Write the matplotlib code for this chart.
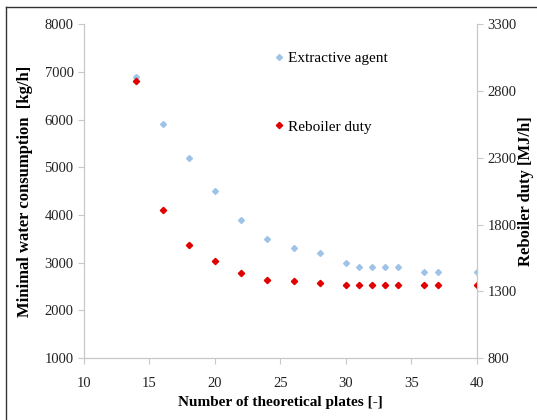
import matplotlib
matplotlib.use("Agg")
import matplotlib.pyplot as plt
from matplotlib.lines import Line2D

plates = [14, 16, 18, 20, 22, 24, 26, 28, 30, 31, 32, 33, 34, 36, 37, 40]
agent = [6900, 5900, 5200, 4500, 3900, 3500, 3300, 3200, 3000,
         2900, 2900, 2900, 2900, 2800, 2800, 2800]
duty = [2875, 1912, 1650, 1525, 1435, 1388, 1375, 1362, 1350,
        1350, 1350, 1350, 1345, 1345, 1345, 1345]

plt.rcParams['font.family'] = ['Liberation Serif', 'DejaVu Serif']

fig = plt.figure(figsize=(5.37, 4.20), dpi=100)
ax = fig.add_axes([0.1564, 0.1476, 0.7316, 0.7944])
ax2 = ax.twinx()

grey = '#c8c8c8'
p1, = ax.plot(plates, agent, linestyle='none', marker='D', markersize=3,
              color='#9dc3e6', label='Extractive agent')
p2, = ax2.plot(plates, duty, linestyle='none', marker='D', markersize=3.2,
               color='#e00000', label='Reboiler duty')

ax.set_xlim(10, 40)
ax.set_ylim(1000, 8000)
ax2.set_ylim(800, 3300)
ax.set_xticks(range(10, 41, 5))
ax.set_yticks(range(1000, 8001, 1000))
ax2.set_yticks(range(800, 3301, 500))

for a in (ax, ax2):
    a.spines['top'].set_visible(False)
    for s in ('left', 'right', 'bottom'):
        a.spines[s].set_color(grey)
    a.tick_params(direction='out', length=4, color=grey, labelsize=10.5,
                  labelcolor='#222222')
ax.tick_params(axis='x', pad=10)

ax.set_xlabel('Number of theoretical plates [-]', fontsize=11,
              fontweight='bold', labelpad=4)
ax.set_ylabel('Minimal water consumption  [kg/h]', fontsize=12,
              fontweight='bold', labelpad=8)
ax2.set_ylabel('Reboiler duty [MJ/h]', fontsize=12, fontweight='bold',
               labelpad=1)

leg = ax.legend(handles=[p1, p2], loc='upper left',
                bbox_to_anchor=(0.45, 0.96), frameon=False, fontsize=11,
                handlelength=0.6, handletextpad=0.3, labelspacing=3.6,
                markerscale=1.0)

# outer frame (top and left edges visible in the reference)
fig.add_artist(Line2D([6 / 537, 6 / 537], [0, 1 - 7 / 420],
                      transform=fig.transFigure, color='#333333', lw=1))
fig.add_artist(Line2D([6 / 537, 1], [1 - 7 / 420, 1 - 7 / 420],
                      transform=fig.transFigure, color='#333333', lw=1))

fig.savefig('out.png', dpi=100)
